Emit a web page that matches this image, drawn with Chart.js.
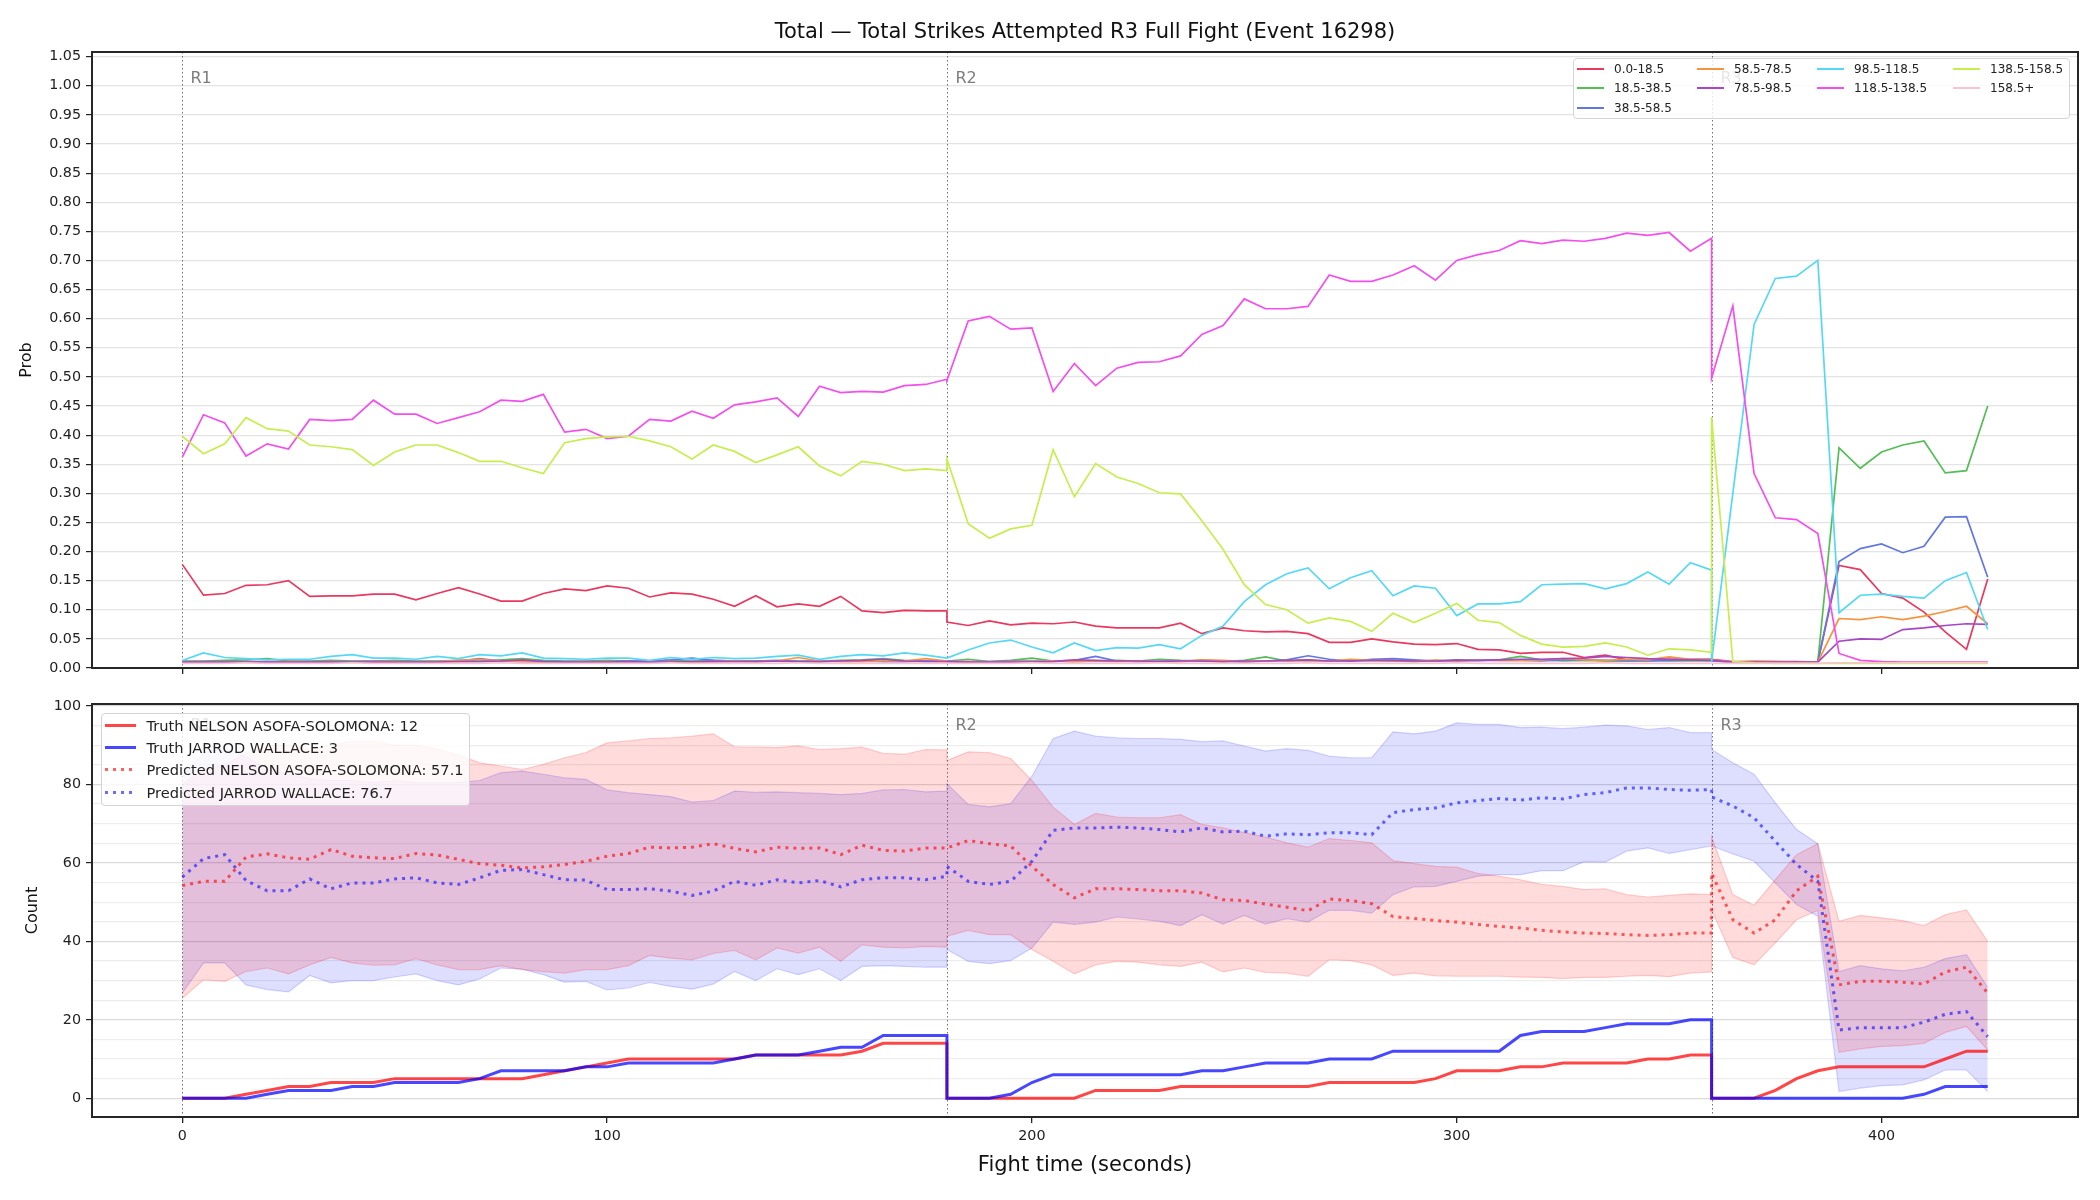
<!DOCTYPE html>
<html>
<head>
<meta charset="utf-8">
<title>Total Strikes Attempted R3 Full Fight</title>
<script src="https://cdn.jsdelivr.net/npm/chart.js@4.4.1/dist/chart.umd.min.js"></script>
<style>
  html, body { margin: 0; padding: 0; background: #fff; }
  body { width: 2100px; height: 1200px; position: relative; overflow: hidden;
         font-family: "DejaVu Sans", sans-serif; color: #222; }
  canvas { position: absolute; left: 0; }
  #probChart { top: 0; }
  #countChart { top: 690px; }
  #chartTitle { position: absolute; left: 92px; width: 1986px; top: 18px; line-height: 26px;
                font-size: 21px; text-align: center; color: #111; white-space: nowrap; }
  .legend { position: absolute; box-sizing: border-box; background: rgba(255,255,255,0.8);
            border: 1.5px solid #d4d4d4; border-radius: 4px; }
  .legend .item { position: absolute; display: flex; align-items: center; white-space: nowrap; }
  .legend .swatch { display: inline-block; flex: none; }
  #probLegend { left: 1573px; top: 58px; width: 497px; height: 61px; font-size: 12px; }
  #countLegend { left: 101px; top: 713px; width: 369px; height: 93px; font-size: 14.6px; }
</style>
</head>
<body>
<canvas id="probChart" width="2100" height="690"></canvas>
<canvas id="countChart" width="2100" height="510"></canvas>
<div id="chartTitle"></div>
<div id="probLegend" class="legend"></div>
<div id="countLegend" class="legend"></div>

<script>
const chartTitle = 'Total \u2014 Total Strikes Attempted R3 Full Fight (Event 16298)';

// sample times: R1 0-180, R2 180-360, R3 360-425 (round starts repeat)
const fightTime = [
  0, 5, 10, 15, 20, 25, 30, 35, 40, 45, 50, 55, 60, 65, 70, 75, 80, 85, 90, 95,
  100, 105, 110, 115, 120, 125, 130, 135, 140, 145, 150, 155, 160, 165, 170, 175, 180,
  180, 185, 190, 195, 200, 205, 210, 215, 220, 225, 230, 235, 240, 245, 250, 255, 260, 265,
  270, 275, 280, 285, 290, 295, 300, 305, 310, 315, 320, 325, 330, 335, 340, 345, 350, 355, 360,
  360, 365, 370, 375, 380, 385, 390, 395, 400, 405, 410, 415, 420, 425
];

const roundStarts = [0, 180, 360];
const roundLabels = ['R1', 'R2', 'R3'];
const xTicks = [0, 100, 200, 300, 400];
const probTicks = [0.00, 0.05, 0.10, 0.15, 0.20, 0.25, 0.30, 0.35, 0.40, 0.45, 0.50,
                   0.55, 0.60, 0.65, 0.70, 0.75, 0.80, 0.85, 0.90, 0.95, 1.00, 1.05];
const countTicks = [0, 20, 40, 60, 80, 100];
const countGrid = [0, 5, 10, 15, 20, 25, 30, 35, 40, 45, 50, 55, 60, 65, 70, 75, 80, 85, 90, 95, 100];

// ---- top panel: probability of each bin ----
const binLabels = ['0.0-18.5', '18.5-38.5', '38.5-58.5', '58.5-78.5', '78.5-98.5',
                   '98.5-118.5', '118.5-138.5', '138.5-158.5', '158.5+'];
const binColors = ['#e8395f', '#56bd56', '#6277e0', '#f5943f', '#a547c6',
                   '#56d8f5', '#f24fec', '#c6ee4f', '#f7c4d3'];

const prob_0_18 = [
  0.178,0.125,0.128,0.142,0.143,0.150,0.123,0.124,0.124,0.127,0.127,0.117,0.128,0.138,0.127,0.115,0.115,0.128,0.136,0.133,
  0.141,0.137,0.122,0.129,0.127,0.118,0.106,0.124,0.105,0.110,0.106,0.123,0.098,0.095,0.099,0.098,0.098,
  0.079,0.073,0.081,0.074,0.077,0.076,0.079,0.072,0.069,0.069,0.069,0.077,0.059,0.069,0.064,0.062,0.063,0.059,0.044,0.044,
  0.050,0.045,0.041,0.040,0.042,0.032,0.031,0.025,0.027,0.027,0.018,0.022,0.014,0.015,0.015,0.015,0.015,
  0.015,0.011,0.011,0.011,0.011,0.010,0.176,0.169,0.128,0.120,0.096,0.062,0.032,0.153
];
const prob_18_38 = [
  0.012,0.012,0.013,0.014,0.016,0.012,0.012,0.013,0.012,0.012,0.013,0.012,0.012,0.013,0.012,0.014,0.016,0.013,0.012,0.012,
  0.013,0.012,0.012,0.013,0.012,0.013,0.012,0.012,0.013,0.012,0.012,0.013,0.014,0.016,0.013,0.012,0.012,
  0.012,0.015,0.011,0.013,0.017,0.012,0.011,0.012,0.013,0.012,0.015,0.013,0.012,0.011,0.013,0.019,0.012,0.013,0.012,0.012,
  0.013,0.012,0.011,0.013,0.012,0.013,0.014,0.020,0.014,0.012,0.013,0.012,0.012,0.013,0.012,0.012,0.012,
  0.012,0.010,0.010,0.010,0.010,0.010,0.378,0.343,0.371,0.383,0.390,0.335,0.339,0.450
];
const prob_38_58 = [
  0.011,0.011,0.011,0.011,0.011,0.011,0.011,0.011,0.011,0.012,0.011,0.011,0.011,0.012,0.016,0.012,0.011,0.011,0.011,0.011,
  0.011,0.012,0.012,0.014,0.017,0.013,0.012,0.012,0.012,0.011,0.011,0.012,0.012,0.011,0.011,0.012,0.012,
  0.012,0.011,0.011,0.012,0.012,0.012,0.013,0.020,0.012,0.011,0.012,0.012,0.013,0.012,0.010,0.012,0.014,0.021,0.015,0.012,
  0.015,0.016,0.014,0.012,0.014,0.013,0.013,0.013,0.012,0.014,0.014,0.013,0.012,0.012,0.013,0.014,0.015,
  0.013,0.010,0.010,0.010,0.010,0.010,0.183,0.205,0.213,0.198,0.209,0.259,0.260,0.156
];
const prob_58_78 = [
  0.010,0.010,0.010,0.010,0.010,0.011,0.010,0.010,0.010,0.011,0.011,0.010,0.011,0.013,0.015,0.012,0.011,0.010,0.010,0.010,
  0.011,0.010,0.010,0.011,0.010,0.011,0.012,0.011,0.012,0.018,0.012,0.011,0.011,0.012,0.012,0.016,0.012,
  0.011,0.011,0.010,0.011,0.011,0.012,0.011,0.012,0.011,0.012,0.011,0.011,0.014,0.013,0.011,0.012,0.012,0.013,0.012,0.015,
  0.013,0.012,0.012,0.013,0.012,0.014,0.013,0.013,0.014,0.016,0.014,0.013,0.015,0.014,0.019,0.015,0.014,
  0.014,0.010,0.012,0.011,0.010,0.010,0.085,0.083,0.088,0.083,0.089,0.097,0.106,0.076
];
const prob_78_98 = [
  0.010,0.010,0.010,0.010,0.010,0.010,0.010,0.010,0.010,0.010,0.010,0.010,0.010,0.011,0.011,0.012,0.014,0.011,0.010,0.010,
  0.010,0.011,0.010,0.010,0.011,0.011,0.011,0.011,0.012,0.011,0.011,0.012,0.013,0.015,0.012,0.011,0.011,
  0.011,0.010,0.010,0.010,0.010,0.011,0.014,0.013,0.012,0.012,0.011,0.012,0.012,0.011,0.012,0.012,0.013,0.014,0.012,0.012,
  0.013,0.013,0.012,0.012,0.013,0.013,0.014,0.015,0.015,0.016,0.017,0.020,0.018,0.016,0.015,0.014,0.013,
  0.013,0.010,0.010,0.010,0.010,0.010,0.046,0.050,0.049,0.066,0.069,0.073,0.076,0.075
];
const prob_98_118 = [
  0.013,0.026,0.018,0.016,0.014,0.015,0.015,0.020,0.023,0.017,0.017,0.015,0.020,0.016,0.023,0.021,0.026,0.017,0.016,0.015,
  0.017,0.017,0.013,0.018,0.015,0.018,0.016,0.017,0.020,0.022,0.015,0.020,0.023,0.021,0.026,0.022,0.017,
  0.017,0.031,0.043,0.048,0.036,0.026,0.043,0.030,0.035,0.034,0.040,0.033,0.056,0.072,0.114,0.143,0.162,0.172,0.136,0.155,
  0.167,0.124,0.141,0.137,0.090,0.110,0.110,0.114,0.143,0.144,0.145,0.136,0.145,0.165,0.144,0.181,0.168,
  0.011,0.300,0.590,0.669,0.673,0.700,0.095,0.125,0.127,0.123,0.120,0.150,0.164,0.066
];
const prob_118_138 = [
  0.362,0.435,0.421,0.364,0.385,0.376,0.427,0.425,0.427,0.460,0.436,0.436,0.420,0.430,0.440,0.460,0.458,0.470,0.405,0.410,
  0.394,0.398,0.427,0.424,0.441,0.429,0.452,0.457,0.464,0.432,0.484,0.473,0.475,0.474,0.485,0.487,0.496,
  0.494,0.596,0.604,0.582,0.584,0.475,0.523,0.485,0.515,0.525,0.526,0.536,0.573,0.588,0.634,0.617,0.617,0.621,0.675,0.664,
  0.664,0.675,0.691,0.666,0.700,0.710,0.717,0.734,0.729,0.735,0.733,0.738,0.747,0.743,0.748,0.716,0.738,
  0.498,0.622,0.334,0.258,0.255,0.231,0.025,0.013,0.011,0.010,0.010,0.010,0.010,0.010
];
const prob_138_158 = [
  0.398,0.368,0.385,0.430,0.411,0.407,0.383,0.380,0.375,0.348,0.371,0.383,0.383,0.370,0.355,0.355,0.344,0.334,0.387,0.394,
  0.397,0.398,0.390,0.380,0.359,0.383,0.372,0.353,0.366,0.380,0.347,0.330,0.355,0.350,0.339,0.342,0.339,
  0.359,0.248,0.223,0.239,0.245,0.375,0.294,0.351,0.328,0.317,0.301,0.299,0.253,0.204,0.143,0.109,0.100,0.077,0.086,0.080,
  0.063,0.094,0.078,0.094,0.111,0.082,0.078,0.056,0.041,0.036,0.037,0.043,0.036,0.022,0.033,0.031,0.027,
  0.431,0.011,0.009,0.008,0.008,0.008,0.008,0.008,0.008,0.008,0.008,0.008,0.008,0.008
];
const prob_158_up = [
  0.008,0.008,0.008,0.009,0.008,0.008,0.008,0.008,0.009,0.008,0.008,0.008,0.008,0.008,0.008,0.009,0.008,0.008,0.008,0.008,
  0.008,0.008,0.008,0.009,0.008,0.008,0.008,0.008,0.008,0.009,0.008,0.008,0.008,0.008,0.008,0.008,0.008,
  0.008,0.008,0.008,0.008,0.009,0.008,0.008,0.008,0.008,0.008,0.009,0.008,0.008,0.008,0.008,0.008,0.008,0.009,0.008,0.008,
  0.008,0.008,0.008,0.008,0.009,0.008,0.008,0.008,0.008,0.008,0.008,0.009,0.008,0.008,0.008,0.008,0.008,
  0.008,0.008,0.008,0.008,0.008,0.008,0.009,0.009,0.009,0.009,0.009,0.009,0.009,0.009
];
const binProb = [prob_0_18, prob_18_38, prob_38_58, prob_58_78, prob_78_98,
                 prob_98_118, prob_118_138, prob_138_158, prob_158_up];

// ---- bottom panel: counts ----
const fighterNames = ['NELSON ASOFA-SOLOMONA', 'JARROD WALLACE'];
const truthTotals = [12, 3];
const predTotals = [57.1, 76.7];

const truthNelson = [
  0,0,0,1,2,3,3,4,4,4,5,5,5,5,5,5,5,6,7,8,9,10,10,10,10,10,10,11,11,11,11,11,12,14,14,14,14,
  0,0,0,0,0,0,0,2,2,2,2,3,3,3,3,3,3,3,4,4,4,4,4,5,7,7,7,8,8,9,9,9,9,10,10,11,11,
  0,0,0,2,5,7,8,8,8,8,8,10,12,12
];
const truthWallace = [
  0,0,0,0,1,2,2,2,3,3,4,4,4,4,5,7,7,7,7,8,8,9,9,9,9,9,10,11,11,11,12,13,13,16,16,16,16,
  0,0,0,1,4,6,6,6,6,6,6,6,7,7,8,9,9,9,10,10,10,12,12,12,12,12,12,16,17,17,17,18,19,19,19,20,20,
  0,0,0,0,0,0,0,0,0,0,1,3,3,3
];
const predNelson = [
  54.2,55.3,55.3,61.5,62.3,61.3,60.9,63.4,61.7,61.3,61.1,62.4,62.0,60.9,59.8,59.4,58.7,59.0,59.6,60.4,
  61.7,62.4,64.0,63.8,64.0,64.9,63.7,62.8,64.0,63.7,63.8,62.1,64.5,63.2,63.0,63.8,63.8,
  63.8,65.7,64.9,64.3,59.1,54.5,51.1,53.4,53.4,53.2,52.9,52.9,52.3,50.6,50.4,49.5,48.7,47.8,50.8,50.4,
  49.6,46.3,45.8,45.3,44.9,44.3,43.8,43.4,42.8,42.4,42.1,42.0,41.7,41.5,41.7,42.1,42.1,
  57.4,45.5,42.1,45.5,52.9,56.6,28.9,29.8,29.8,29.6,29.1,32.2,33.4,26.8
];
const predWallace = [
  56.4,61.1,62.1,55.5,52.9,52.9,55.9,53.4,54.9,54.9,55.9,56.2,54.9,54.5,56.2,58.1,58.3,57.0,55.7,55.6,
  53.2,53.2,53.4,52.8,51.7,52.8,55.3,54.3,55.7,54.9,55.5,53.9,55.7,56.2,56.2,55.7,56.6,
  59.1,55.3,54.5,55.3,60.4,68.3,68.9,68.9,69.1,68.9,68.5,67.9,68.9,67.9,68.1,66.8,67.4,67.2,67.7,67.7,
  67.2,72.8,73.6,74.0,75.3,75.9,76.4,76.0,76.6,76.3,77.4,77.9,79.1,79.1,78.7,78.5,78.7,
  76.8,74.5,71.5,65.5,59.6,55.3,17.4,18.0,18.0,18.0,19.4,21.4,22.1,15.7
];
const nelsonHi = [
  80.0,84.0,85.0,88.0,90.0,90.0,89.0,90.0,91.0,91.0,90.0,90.0,89.0,87.5,85.5,84.7,83.8,85.1,86.8,88.1,
  90.6,91.1,91.7,91.9,92.3,92.9,89.6,89.5,89.4,89.8,88.9,89.1,89.5,87.9,87.7,88.9,88.8,
  86.1,88.3,88.1,86.6,81.0,74.2,69.8,72.6,71.7,71.5,71.5,72.3,69.8,68.9,67.7,66.6,65.1,64.0,66.2,65.7,
  65.1,60.6,59.8,59.1,58.9,57.3,56.6,55.7,54.5,54.0,53.2,53.4,51.9,51.3,51.7,52.1,51.9,
  66.6,51.9,49.2,55.7,62.1,64.9,45.1,46.6,46.0,45.3,44.0,46.8,48.0,40.0
];
const nelsonLo = [
  25.5,30.2,29.8,32.3,33.2,31.7,34.0,35.9,34.5,33.9,34.0,35.6,34.0,32.8,32.8,33.8,32.8,32.3,31.9,32.8,
  32.8,33.8,36.4,35.7,35.3,36.9,37.7,35.3,38.3,37.0,38.5,34.9,39.1,38.5,38.3,38.7,38.5,
  41.3,42.8,41.7,41.7,37.9,34.9,31.7,34.0,34.9,34.7,34.0,33.6,34.7,32.2,33.2,32.1,31.9,31.1,35.3,35.1,
  34.0,31.3,31.9,31.2,31.1,31.1,31.1,30.9,30.8,30.5,30.8,30.8,31.1,31.3,31.0,31.9,32.2,
  48.0,35.9,34.0,39.6,45.5,47.9,11.7,12.6,13.2,13.4,14.0,16.8,18.3,12.3
];
const wallaceHi = [
  82.0,88.0,89.5,87.0,84.0,82.5,81.5,81.0,81.0,80.5,81.0,80.5,80.5,80.5,81.0,83.0,83.4,82.6,81.7,81.3,
  78.6,77.9,77.4,76.9,75.5,75.9,78.3,78.0,78.1,77.9,77.7,77.4,77.7,78.6,78.7,78.1,78.3,
  80.2,74.9,74.3,75.1,82.1,91.7,93.6,92.3,91.9,91.7,91.7,91.5,90.9,91.1,89.8,88.5,89.1,88.7,87.2,86.8,
  86.8,93.4,92.9,93.6,95.7,95.3,95.3,94.5,94.6,94.2,94.6,95.1,94.9,94.0,94.5,93.2,93.2,
  88.9,85.5,82.6,75.3,68.5,64.9,32.3,33.8,33.0,32.5,33.4,35.6,36.6,28.3
];
const wallaceLo = [
  26.8,34.5,34.5,28.9,27.7,27.1,31.3,29.4,30.0,30.0,30.9,31.7,30.0,28.9,30.4,33.2,32.9,31.5,29.6,29.8,
  27.6,28.1,29.5,28.5,27.8,29.1,32.3,30.0,33.0,31.5,33.0,30.0,33.6,33.8,33.6,33.4,33.4,
  37.9,34.9,34.3,35.1,38.3,44.9,44.3,44.9,46.2,45.7,45.1,44.0,46.8,44.4,46.6,44.4,45.8,44.9,47.9,47.9,
  47.2,51.9,53.9,54.0,55.3,56.6,57.0,57.0,58.0,58.0,60.3,60.2,63.0,63.8,62.4,63.4,64.3,
  64.3,62.3,60.4,54.9,49.4,46.4,1.7,2.6,3.2,3.4,4.7,7.2,7.2,1.7
];

const RED = 'rgba(255,0,0,0.72)';
const BLUE = 'rgba(0,0,255,0.72)';
const RED_DOT = 'rgba(255,0,0,0.62)';
const BLUE_DOT = 'rgba(0,0,255,0.58)';

Chart.defaults.font.family = '"DejaVu Sans", sans-serif';
Chart.defaults.color = '#222';

document.getElementById('chartTitle').textContent = chartTitle;

function pts(vals) {
  return fightTime.map((t, i) => ({ x: t, y: vals[i] }));
}

// dotted round separators with R1/R2/R3 tags
const roundMarkers = {
  id: 'roundMarkers',
  beforeDatasetsDraw(chart, args, opts) {
    const { ctx, chartArea: a, scales: { x } } = chart;
    ctx.save();
    ctx.strokeStyle = 'rgba(80,80,80,0.8)';
    ctx.lineWidth = 1;
    ctx.setLineDash([1.5, 2.5]);
    ctx.font = '16px "DejaVu Sans"';
    ctx.fillStyle = 'rgba(110,110,110,0.9)';
    ctx.textBaseline = 'middle';
    roundStarts.forEach((t, i) => {
      const px = Math.round(x.getPixelForValue(t)) + 0.5;
      ctx.beginPath();
      ctx.moveTo(px, a.top);
      ctx.lineTo(px, a.bottom);
      ctx.stroke();
      ctx.fillText(roundLabels[i], px + 8, a.top + opts.labelOffset);
    });
    ctx.restore();
  }
};

// matplotlib style box around the axes
const frame = {
  id: 'frame',
  afterDatasetsDraw(chart) {
    const { ctx, chartArea: a } = chart;
    ctx.save();
    ctx.strokeStyle = '#262626';
    ctx.lineWidth = 2;
    ctx.strokeRect(a.left, a.top, a.right - a.left, a.bottom - a.top);
    ctx.restore();
  }
};

const xRange = { min: -21.25, max: 446.25 };

// ---------- top chart ----------
new Chart(document.getElementById('probChart'), {
  type: 'line',
  data: {
    datasets: binLabels.map((label, i) => ({
      label: label,
      data: pts(binProb[i]),
      borderColor: binColors[i],
      borderWidth: 1.7,
      pointRadius: 0,
      fill: false,
      tension: 0,
      order: binLabels.length - i
    }))
  },
  options: {
    responsive: false,
    animation: false,
    devicePixelRatio: 1,
    events: [],
    layout: { padding: { left: 0, right: 22, top: 52, bottom: 0 } },
    plugins: {
      legend: { display: false },
      tooltip: { enabled: false },
      roundMarkers: { labelOffset: 27 }
    },
    scales: {
      x: {
        type: 'linear',
        min: xRange.min,
        max: xRange.max,
        afterBuildTicks: s => { s.ticks = xTicks.map(v => ({ value: v })); },
        ticks: { display: false },
        grid: { drawOnChartArea: false, tickLength: 6, tickColor: '#222', lineWidth: 1.3 },
        border: { display: false },
        afterFit: s => { s.height = 22; }
      },
      y: {
        min: 0,
        max: 1.058,
        afterBuildTicks: s => { s.ticks = probTicks.map(v => ({ value: v })); },
        ticks: { callback: v => v.toFixed(2), font: { size: 14.3 }, color: '#222', padding: 5, autoSkip: false },
        grid: { color: '#e4e4e4', lineWidth: 1.2, tickLength: 6, tickColor: '#222' },
        border: { display: false },
        title: { display: true, text: 'Prob', font: { size: 16 }, color: '#111', padding: { top: 17 } },
        afterFit: s => { s.width = 92; }
      }
    }
  },
  plugins: [roundMarkers, frame]
});

// ---------- bottom chart ----------
new Chart(document.getElementById('countChart'), {
  type: 'line',
  data: {
    datasets: [
      { label: 'Truth ' + fighterNames[1], data: pts(truthWallace), borderColor: BLUE, borderWidth: 3, pointRadius: 0, fill: false },
      { label: 'Truth ' + fighterNames[0], data: pts(truthNelson), borderColor: RED, borderWidth: 3, pointRadius: 0, fill: false },
      { label: 'Predicted ' + fighterNames[0], data: pts(predNelson), borderColor: RED_DOT, borderWidth: 3,
        borderDash: [3, 5], pointRadius: 0, fill: false },
      { label: 'Predicted ' + fighterNames[1], data: pts(predWallace), borderColor: BLUE_DOT, borderWidth: 3,
        borderDash: [3, 5], pointRadius: 0, fill: false },
      { label: 'nelson hi', data: pts(nelsonHi), borderColor: 'rgba(255,0,0,0.18)', borderWidth: 1.2,
        pointRadius: 0, fill: '+1', backgroundColor: 'rgba(255,0,0,0.14)' },
      { label: 'nelson lo', data: pts(nelsonLo), borderColor: 'rgba(255,0,0,0.18)', borderWidth: 1.2,
        pointRadius: 0, fill: false },
      { label: 'wallace hi', data: pts(wallaceHi), borderColor: 'rgba(0,0,255,0.16)', borderWidth: 1.2,
        pointRadius: 0, fill: '+1', backgroundColor: 'rgba(0,0,255,0.13)' },
      { label: 'wallace lo', data: pts(wallaceLo), borderColor: 'rgba(0,0,255,0.16)', borderWidth: 1.2,
        pointRadius: 0, fill: false }
    ]
  },
  options: {
    responsive: false,
    animation: false,
    devicePixelRatio: 1,
    events: [],
    layout: { padding: { left: 0, right: 22, top: 14, bottom: 0 } },
    plugins: {
      legend: { display: false },
      tooltip: { enabled: false },
      roundMarkers: { labelOffset: 22 }
    },
    scales: {
      x: {
        type: 'linear',
        min: xRange.min,
        max: xRange.max,
        afterBuildTicks: s => { s.ticks = xTicks.map(v => ({ value: v })); },
        ticks: { font: { size: 14.3 }, color: '#222', padding: 5, maxRotation: 0, autoSkip: false },
        grid: { drawOnChartArea: false, tickLength: 6, tickColor: '#222', lineWidth: 1.3 },
        border: { display: false },
        title: { display: true, text: 'Fight time (seconds)', font: { size: 21 }, color: '#111', padding: { top: 0, bottom: 22 } },
        afterFit: s => { s.height = 83; }
      },
      y: {
        min: -4.78,
        max: 100.5,
        afterBuildTicks: s => { s.ticks = countGrid.map(v => ({ value: v })); },
        ticks: {
          callback: v => countTicks.includes(v) ? String(v) : '',
          font: { size: 14.3 }, color: '#222', padding: 5, autoSkip: false
        },
        grid: {
          color: c => countTicks.includes(c.tick.value) ? '#dadada' : '#ededed',
          tickColor: c => countTicks.includes(c.tick.value) ? '#222' : 'rgba(0,0,0,0)',
          lineWidth: 1.2,
          tickLength: 6
        },
        border: { display: false },
        title: { display: true, text: 'Count', font: { size: 16 }, color: '#111', padding: { top: 23 } },
        afterFit: s => { s.width = 92; }
      }
    }
  },
  plugins: [roundMarkers, frame]
});

// ---------- legends ----------
function legendItem(parent, left, centerY, h, swatchLen, gap, swatchCss, text) {
  const item = document.createElement('div');
  item.className = 'item';
  item.style.left = left + 'px';
  item.style.top = (centerY - h / 2) + 'px';
  item.style.height = h + 'px';
  const sw = document.createElement('span');
  sw.className = 'swatch';
  sw.style.width = swatchLen + 'px';
  sw.style.marginRight = gap + 'px';
  Object.assign(sw.style, swatchCss);
  const tx = document.createElement('span');
  tx.textContent = text;
  item.append(sw, tx);
  parent.appendChild(item);
}

// top legend: 4 columns filled column by column like matplotlib
const probLegend = document.getElementById('probLegend');
const legendColX = [3, 123, 243, 379];
const legendRowY = [10, 29.4, 48.6];
const nCol = 4;
const nRow = Math.ceil(binLabels.length / nCol);
const fullCols = binLabels.length % nCol || nCol;
let k = 0;
for (let c = 0; c < nCol; c++) {
  const rows = c < fullCols ? nRow : nRow - 1;
  for (let r = 0; r < rows && k < binLabels.length; r++, k++) {
    legendItem(probLegend, legendColX[c], legendRowY[r], 16, 27, 10,
      { height: '2px', background: binColors[k] }, binLabels[k]);
  }
}

// bottom legend
const countLegend = document.getElementById('countLegend');
const dots = col => `repeating-linear-gradient(to right, ${col} 0 3px, transparent 3px 8px)`;
const countEntries = [
  { text: `Truth ${fighterNames[0]}: ${truthTotals[0]}`, css: { height: '3px', background: RED } },
  { text: `Truth ${fighterNames[1]}: ${truthTotals[1]}`, css: { height: '3px', background: BLUE } },
  { text: `Predicted ${fighterNames[0]}: ${predTotals[0]}`, css: { height: '3px', background: dots(RED_DOT) } },
  { text: `Predicted ${fighterNames[1]}: ${predTotals[1]}`, css: { height: '3px', background: dots(BLUE_DOT) } }
];
countEntries.forEach((e, i) => {
  legendItem(countLegend, 2.5, 11.5 + i * 22.2, 20, 31, 11, e.css, e.text);
});
</script>
</body>
</html>
